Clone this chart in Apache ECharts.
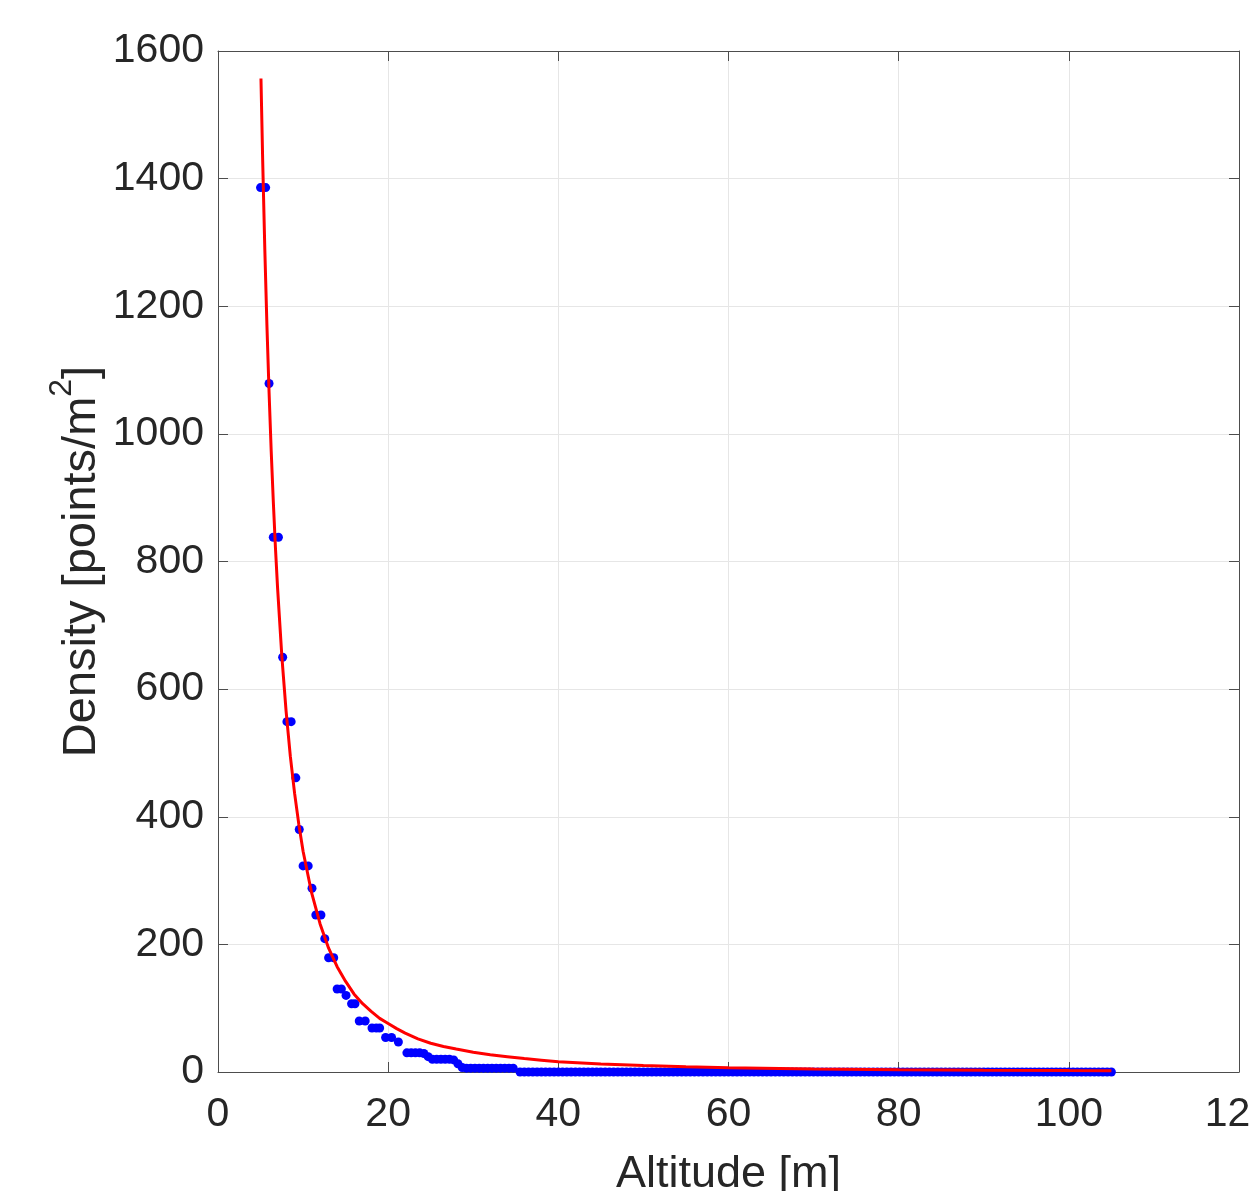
<!DOCTYPE html>
<html>
<head>
<meta charset="utf-8">
<title>Density vs altitude</title>
<script src="https://cdn.jsdelivr.net/npm/echarts@6/dist/echarts.min.js"></script>
<style>
    html, body { margin: 0; padding: 0; background: #fff; }
    #chart { width: 1249px; height: 1191px; }
</style>
</head>
<body>
<div id="chart"></div>
<script type="text/javascript">
    // measured points (blue dots)
    var altitude = [
        5.0, 5.6, 6.0, 6.5, 7.1, 7.6, 8.1, 8.6, 9.15, 9.55,
        10.0, 10.6, 11.05, 11.5, 12.1, 12.55, 13.0, 13.6, 14.0, 14.5,
        15.05, 15.7, 16.1, 16.6, 17.3, 18.1, 18.6, 19.0, 19.7, 20.4,
        21.2, 22.2, 22.7, 23.2, 23.7, 24.2, 24.7, 25.2, 25.7, 26.2,
        26.7, 27.2, 27.7, 28.2, 28.7, 29.2, 29.7, 30.2, 30.7, 31.2,
        31.7, 32.2, 32.7, 33.2, 33.7, 34.2, 34.7,
        35.5, 36, 36.5, 37, 37.5, 38, 38.5, 39, 39.5, 40,
        40.5, 41, 41.5, 42, 42.5, 43, 43.5, 44, 44.5, 45,
        45.5, 46, 46.5, 47, 47.5, 48, 48.5, 49, 49.5, 50,
        50.5, 51, 51.5, 52, 52.5, 53, 53.5, 54, 54.5, 55,
        55.5, 56, 56.5, 57, 57.5, 58, 58.5, 59, 59.5, 60,
        60.5, 61, 61.5, 62, 62.5, 63, 63.5, 64, 64.5, 65,
        65.5, 66, 66.5, 67, 67.5, 68, 68.5, 69, 69.5, 70,
        70.5, 71, 71.5, 72, 72.5, 73, 73.5, 74, 74.5, 75,
        75.5, 76, 76.5, 77, 77.5, 78, 78.5, 79, 79.5, 80,
        80.5, 81, 81.5, 82, 82.5, 83, 83.5, 84, 84.5, 85,
        85.5, 86, 86.5, 87, 87.5, 88, 88.5, 89, 89.5, 90,
        90.5, 91, 91.5, 92, 92.5, 93, 93.5, 94, 94.5, 95,
        95.5, 96, 96.5, 97, 97.5, 98, 98.5, 99, 99.5, 100,
        100.5, 101, 101.5, 102, 102.5, 103, 103.5, 104, 104.5, 105
    ];
    var density = [
        1386, 1386, 1079, 838, 838, 650, 549, 549, 461, 380,
        323, 323, 288, 246, 246, 209, 179, 179, 130, 130,
        120, 107, 107, 80, 80, 69, 69, 69, 54, 54,
        47, 30, 30, 30, 30, 29, 24, 20, 20, 20,
        20, 20, 19, 13, 7, 6, 6, 6, 6, 6,
        6, 6, 6, 6, 6, 6, 6,
        0, 0, 0, 0, 0, 0, 0, 0, 0, 0,
        0, 0, 0, 0, 0, 0, 0, 0, 0, 0,
        0, 0, 0, 0, 0, 0, 0, 0, 0, 0,
        0, 0, 0, 0, 0, 0, 0, 0, 0, 0,
        0, 0, 0, 0, 0, 0, 0, 0, 0, 0,
        0, 0, 0, 0, 0, 0, 0, 0, 0, 0,
        0, 0, 0, 0, 0, 0, 0, 0, 0, 0,
        0, 0, 0, 0, 0, 0, 0, 0, 0, 0,
        0, 0, 0, 0, 0, 0, 0, 0, 0, 0,
        0, 0, 0, 0, 0, 0, 0, 0, 0, 0,
        0, 0, 0, 0, 0, 0, 0, 0, 0, 0,
        0, 0, 0, 0, 0, 0, 0, 0, 0, 0,
        0, 0, 0, 0, 0, 0, 0, 0, 0, 0,
        0, 0, 0, 0, 0, 0, 0, 0, 0, 0
    ];

    // fitted curve (red line)
    var fitAltitude = [5.05, 5.25, 5.5, 5.75, 6, 6.25, 6.5, 6.75, 7, 7.5, 8, 8.5, 9, 9.5, 10,
                       11, 12, 13, 14, 15, 16, 17, 18, 19, 20, 21, 22, 23.5, 25, 26.5, 28, 30, 32, 34, 36, 38, 40,
                       45, 50, 55, 60, 70, 80, 90, 100, 105];
    var fitDensity  = [1557, 1429, 1290, 1170, 1066, 974, 894, 822, 759, 652, 566, 495, 437, 388, 346,
                       281, 232, 194, 165, 142, 122, 107, 95, 84, 76, 68, 61, 52, 45, 40, 36, 31, 27, 24, 21, 18.5, 16,
                       12.5, 10, 8.2, 6.7, 4.8, 3.6, 2.8, 2.2, 2.0];

    var xTicks = {min: 0, max: 120, step: 20};
    var yTicks = {min: 0, max: 1600, step: 200};

    var FONT = "'Liberation Sans', Arial, Helvetica, sans-serif";
    var AXIS_COLOR = '#4d4d4d';
    var TEXT_COLOR = '#262626';

    function pairs(xs, ys) {
        var out = [];
        for (var i = 0; i < xs.length; i++) {
            out.push([xs[i], ys[i]]);
        }
        return out;
    }

    function plainNum(v) {
        return String(v);
    }

    function mirrorAxis(pos, t) {
        return {
            type: 'value', position: pos, min: t.min, max: t.max, interval: t.step,
            axisLine: {show: true, onZero: false, lineStyle: {color: AXIS_COLOR, width: 1}},
            axisTick: {show: true, inside: true, length: 10, lineStyle: {color: AXIS_COLOR}},
            axisLabel: {show: false},
            splitLine: {show: false}
        };
    }

    var myChart = echarts.init(document.getElementById('chart'), null, {renderer: 'canvas'});

    var option = {
        animation: false,
        backgroundColor: '#ffffff',
        textStyle: {fontFamily: FONT},
        grid: {left: 218, top: 51, width: 1021, height: 1021, containLabel: false, outerBoundsMode: 'none'},
        xAxis: [{
            type: 'value', position: 'bottom', min: xTicks.min, max: xTicks.max, interval: xTicks.step,
            axisLine: {show: true, onZero: false, lineStyle: {color: AXIS_COLOR, width: 1}},
            axisTick: {show: true, inside: true, length: 10, lineStyle: {color: AXIS_COLOR}},
            axisLabel: {fontSize: 41, color: TEXT_COLOR, margin: 22, fontFamily: FONT, formatter: plainNum,
                        showMinLabel: true, showMaxLabel: true, hideOverlap: false},
            splitLine: {show: true, lineStyle: {color: '#e6e6e6', width: 1}},
            name: 'Altitude [m]',
            nameLocation: 'middle',
            nameGap: 80,
            nameMoveOverlap: false,
            nameTextStyle: {fontSize: 45, color: TEXT_COLOR, fontFamily: FONT}
        }, mirrorAxis('top', xTicks)],
        yAxis: [{
            type: 'value', position: 'left', min: yTicks.min, max: yTicks.max, interval: yTicks.step,
            axisLine: {show: true, onZero: false, lineStyle: {color: AXIS_COLOR, width: 1}},
            axisTick: {show: true, inside: true, length: 10, lineStyle: {color: AXIS_COLOR}},
            axisLabel: {fontSize: 41, color: TEXT_COLOR, margin: 14, fontFamily: FONT, formatter: plainNum},
            splitLine: {show: true, lineStyle: {color: '#e6e6e6', width: 1}},
            name: 'Density [points/m{s|2}]',
            nameLocation: 'middle',
            nameGap: 100,
            nameMoveOverlap: false,
            nameTextStyle: {
                fontSize: 47, color: TEXT_COLOR, fontFamily: FONT, lineHeight: 72,
                rich: {
                    s: {fontSize: 32, lineHeight: 32, verticalAlign: 'top', color: TEXT_COLOR, fontFamily: FONT}
                }
            }
        }, mirrorAxis('right', yTicks)],
        series: [{
            type: 'scatter',
            xAxisIndex: 0, yAxisIndex: 0,
            data: pairs(altitude, density),
            symbol: 'circle',
            symbolSize: 9,
            itemStyle: {color: '#0000ff', opacity: 1},
            z: 2
        }, {
            type: 'line',
            xAxisIndex: 0, yAxisIndex: 0,
            data: pairs(fitAltitude, fitDensity),
            showSymbol: false,
            smooth: false,
            lineStyle: {color: '#ff0000', width: 3},
            itemStyle: {color: '#ff0000'},
            z: 3
        }]
    };

    myChart.setOption(option, true);
</script>
</body>
</html>
